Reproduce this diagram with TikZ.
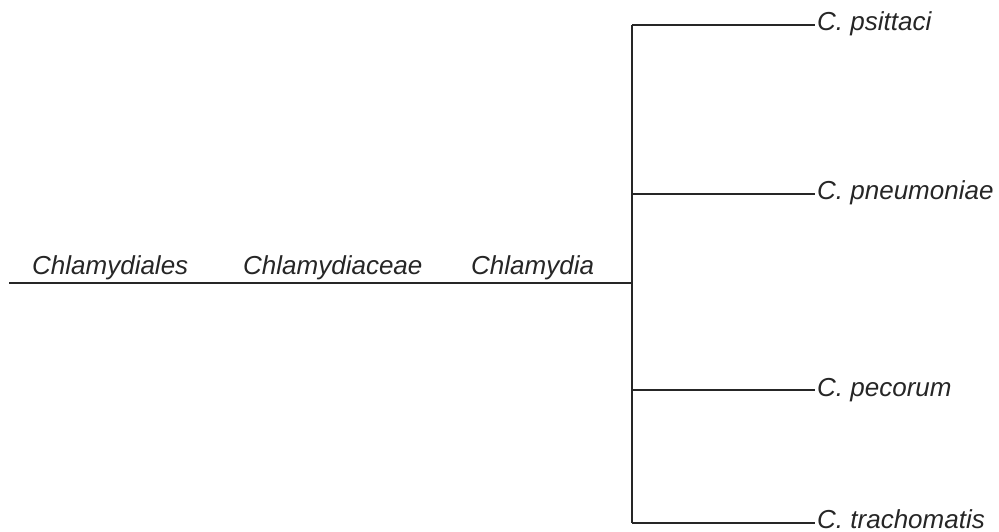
\documentclass[tikz,border=0pt]{standalone}
\usepackage{fontspec}
\setmainfont{Liberation Sans}
\begin{document}
\begin{tikzpicture}[x=1pt,y=1pt,
  lbl/.style={font=\fontsize{26}{31}\selectfont\itshape, inner sep=0pt, anchor=base west, text=black!85},
  ln/.style={line width=1.3pt, black!85}]
\useasboundingbox (0,0) rectangle (999,531);
% genus labels
\node[lbl] (order) at (32,256) {Chlamydiales};
\node[lbl] (family) at (243,256) {Chlamydiaceae};
\node[lbl] (genus) at (471,256) {Chlamydia};
% tree coordinates
\coordinate (root) at (9,248);
\coordinate (j) at (632,248);
\coordinate (jt) at (632,506);
\coordinate (jb) at (632,8);
\coordinate (b1) at (632,506);
\coordinate (b2) at (632,337);
\coordinate (b3) at (632,141);
\coordinate (b4) at (632,8);
\coordinate (e1) at (815,506);
\coordinate (e2) at (815,337);
\coordinate (e3) at (815,141);
\coordinate (e4) at (815,8);
\draw[ln] (root) -- (j);
\draw[ln] (jt) -- (jb);
\draw[ln] (b1) -- (e1);
\draw[ln] (b2) -- (e2);
\draw[ln] (b3) -- (e3);
\draw[ln] (b4) -- (e4);
% species labels
\node[lbl] (s1) at ([xshift=2pt,yshift=-6pt]e1) {C. psittaci};
\node[lbl] (s2) at ([xshift=2pt,yshift=-6pt]e2) {C. pneumoniae};
\node[lbl] (s3) at ([xshift=2pt,yshift=-6pt]e3) {C. pecorum};
\node[lbl] (s4) at ([xshift=2pt,yshift=-5pt]e4) {C. trachomatis};
\end{tikzpicture}
\end{document}
